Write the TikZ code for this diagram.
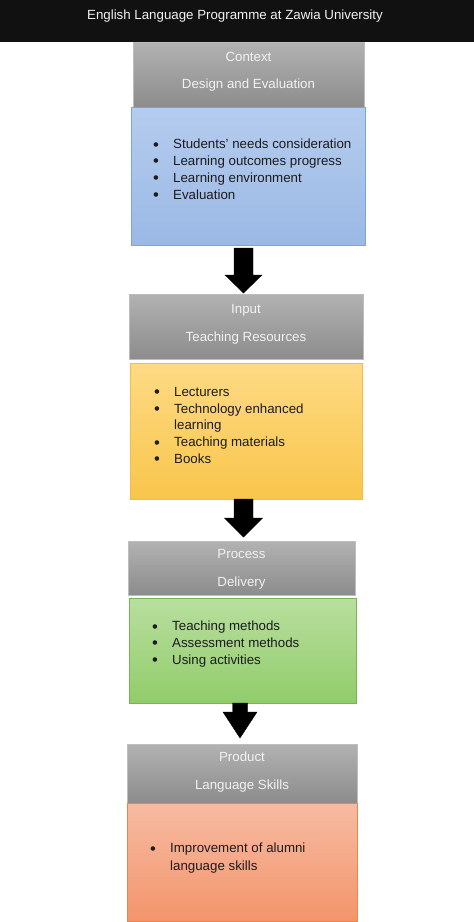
\documentclass[tikz,border=0pt]{standalone}
\usepackage{fontspec}
\setmainfont{Liberation Sans}
\definecolor{barblack}{HTML}{111111}
\definecolor{graytop}{HTML}{B2B2B2}
\definecolor{graybot}{HTML}{8C8C8C}
\definecolor{grayedge}{HTML}{BDBDBD}
\definecolor{bluetop}{HTML}{B5CCEE}
\definecolor{bluebot}{HTML}{9BB9E5}
\definecolor{blueedge}{HTML}{79A5DC}
\definecolor{yeltop}{HTML}{FEDA84}
\definecolor{yelbot}{HTML}{F9C64C}
\definecolor{yeledge}{HTML}{F3BC45}
\definecolor{grntop}{HTML}{B9DF9F}
\definecolor{grnbot}{HTML}{91CC6B}
\definecolor{grnedge}{HTML}{78B452}
\definecolor{orgtop}{HTML}{F7BBA2}
\definecolor{orgbot}{HTML}{F3956C}
\definecolor{orgedge}{HTML}{EE8446}
\definecolor{textdark}{HTML}{1C1C1C}
\definecolor{textlight}{HTML}{F2F2F2}
\newcommand\bul{\makebox[20pt][l]{\raisebox{-1.3pt}{\scalebox{1.25}{\textbullet}}}}
\begin{document}
\begin{tikzpicture}[x=1pt,y=-1pt,
  box/.style={rectangle, inner sep=0pt, outer sep=0pt, line width=0.7pt},
  graybox/.style={box, top color=graytop, bottom color=graybot, draw=grayedge},
  bluebox/.style={box, top color=bluetop, bottom color=bluebot, draw=blueedge},
  yelbox/.style={box, top color=yeltop, bottom color=yelbot, draw=yeledge},
  grnbox/.style={box, top color=grntop, bottom color=grnbot, draw=grnedge},
  orgbox/.style={box, top color=orgtop, bottom color=orgbot, draw=orgedge},
  head/.style={inner sep=0pt, anchor=base, text=textlight, font=\fontsize{13.3}{16}\selectfont},
  list/.style={inner sep=0pt, anchor=north west, align=left, text=textdark, font=\fontsize{13.3}{16.8}\selectfont},
  blockarrow/.style={fill=black, draw=black, line width=0.4pt, line join=miter}
]
\useasboundingbox (0,0) rectangle (474,922);
% title bar
\node[box, fill=barblack, minimum width=474pt, minimum height=42pt] (bar) at (237,21) {};
\node[head] (title) at (235,19) {English Language Programme at Zawia University};
% context
\node[graybox, minimum width=231pt, minimum height=65pt] (ctx) at (248.5,74.5) {};
\node[head] (ctxa) at (248.5,61) {Context};
\node[head] (ctxb) at (248.5,88) {Design and Evaluation};
\node[bluebox, minimum width=234pt, minimum height=138pt] (blue) at (248,176) {};
\node[list] (bluelist) at (153,139) {\bul Students' needs consideration\\\bul Learning outcomes progress\\\bul Learning environment\\\bul Evaluation};
% input
\node[graybox, minimum width=234pt, minimum height=65pt] (inp) at (246,326.5) {};
\node[head] (inpa) at (246,313) {Input};
\node[head] (inpb) at (246,341) {Teaching Resources};
\node[yelbox, minimum width=232pt, minimum height=136pt] (yel) at (246,431) {};
\node[list] (yellist) at (154,387) {\bul Lecturers\\\bul Technology enhanced\\\hspace*{20pt}learning\\\bul Teaching materials\\\bul Books};
% process
\node[graybox, minimum width=227pt, minimum height=54pt] (proc) at (241.5,568) {};
\node[head] (proca) at (241.5,558) {Process};
\node[head] (procb) at (241.5,586) {Delivery};
\node[grnbox, minimum width=227pt, minimum height=105pt] (grn) at (242.5,650.5) {};
\node[list] (grnlist) at (152,621) {\bul Teaching methods\\\bul Assessment methods\\\bul Using activities};
% product
\node[graybox, minimum width=230pt, minimum height=59pt] (prod) at (242,773.5) {};
\node[head] (proda) at (242,761) {Product};
\node[head] (prodb) at (242,789) {Language Skills};
\node[orgbox, minimum width=230pt, minimum height=118pt] (org) at (242,862) {};
\node[list, font=\fontsize{13.3}{17.3}\selectfont] (orglist) at (150,843) {\bul Improvement of alumni\\\hspace*{20pt}language skills};
% block arrows
\coordinate (a1) at (243.5,248);
\coordinate (a2) at (243.5,499);
\coordinate (a3) at (240,703);
\draw[blockarrow] (a1) ++(-9.5,0) -- ++(0,27) -- ++(-9,0) -- ++(18.5,18) -- ++(18.5,-18) -- ++(-9,0) -- ++(0,-27) -- cycle;
\draw[blockarrow] (a2) ++(-9.5,0) -- ++(0,19) -- ++(-9.5,0) -- ++(19,19) -- ++(19,-19) -- ++(-9.5,0) -- ++(0,-19) -- cycle;
\draw[blockarrow] (a3) ++(-7.5,0) -- ++(0,9) -- ++(-9.5,0) -- ++(17,26) -- ++(17,-26) -- ++(-9.5,0) -- ++(0,-9) -- cycle;
\end{tikzpicture}
\end{document}
